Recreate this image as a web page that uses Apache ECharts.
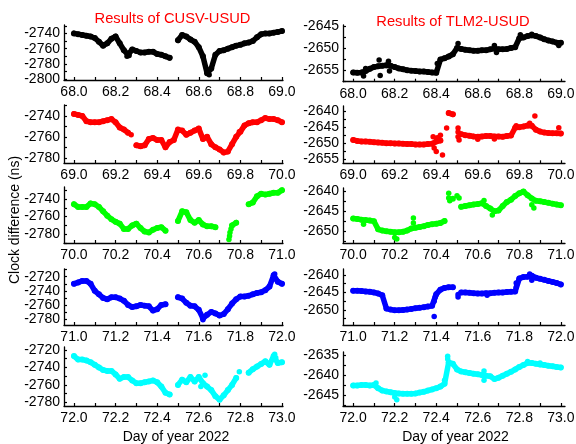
<!DOCTYPE html>
<html><head><meta charset="utf-8">
<script src="https://cdn.jsdelivr.net/npm/echarts@6/dist/echarts.min.js"></script>
<style>html,body{margin:0;padding:0;background:#fff}#c{width:576px;height:444px}</style>
</head><body><div id="c"></div>
<script>
// ---------------- DATA ----------------
const dayStarts = [68, 69, 70, 71, 72];
const sampleStep = 0.02;
const titles = ['Results of CUSV-USUD', 'Results of TLM2-USUD'];
const yAxisTitle = 'Clock difference (ns)';
const xAxisTitle = 'Day of year 2022';
const xLabelOffsets = [0, 0.2, 0.4, 0.6, 0.8, 1.0];

// CUSV-USUD (left column), one value every 0.02 day, null = gap
const cusvDay68 = [-2740,-2741,-2742,-2743,-2744,-2746,-2751,-2756,-2753,-2747,-2744,-2753,-2762,-2768,-2761,-2763,-2765,-2765,-2764,-2764,-2767,-2768,-2770,-2772,null,-2749,-2742,-2744,-2748,-2751,-2758,-2770,-2792,-2786,-2768,-2763,-2762,-2760,-2758,-2756,-2755,-2753,-2752,-2750,-2745,-2741,-2740,-2740,-2739,-2738,-2737];
const cusvDay69 = [-2738,-2739,-2740,-2745,-2746,-2746,-2746,-2745,-2744,-2743,-2746,-2751,-2753,-2756,null,-2768,-2769,-2768,-2762,-2761,-2763,-2763,-2770,-2765,-2763,-2753,-2754,-2758,-2756,-2754,-2752,-2762,-2760,-2767,-2770,-2772,-2775,-2774,-2767,-2760,-2755,-2749,-2747,-2746,-2746,-2744,-2742,-2743,-2743,-2744,-2746];
const cusvDay70 = [-2746,-2749,-2749,-2749,-2745,-2746,-2749,-2754,-2759,-2763,-2766,-2768,-2774,-2774,-2770,-2768,-2773,-2777,-2778,-2775,-2773,-2772,-2776,null,null,-2765,-2754,-2755,-2764,-2767,-2764,-2769,-2771,-2771,-2772,null,null,null,-2770,-2767,null,null,-2746,-2744,-2737,-2734,-2735,-2734,-2733,-2733,-2730];
const cusvDay71 = [-2730,-2728,-2726,-2726,-2730,-2740,-2745,-2750,-2752,-2749,-2749,-2751,-2754,-2760,-2763,-2762,-2760,-2761,-2762,-2768,-2766,-2760,-2759,null,null,-2749,-2751,-2757,-2761,-2762,-2767,-2779,-2774,-2770,-2772,-2775,-2773,-2766,-2758,-2752,-2748,-2748,-2747,-2745,-2743,-2742,-2739,-2734,-2718,-2727,-2730];
const cusvDay72 = [-2727,-2731,-2731,-2732,-2734,-2737,-2740,-2743,-2744,-2744,-2748,-2753,-2751,-2751,-2755,-2758,-2758,-2757,-2756,-2755,-2757,-2762,-2769,-2771,null,-2760,-2754,-2757,-2751,-2756,-2751,-2758,-2762,-2766,-2773,-2777,-2772,-2766,-2760,-2752,null,null,-2746,-2742,-2739,-2736,-2733,-2737,-2727,-2735,-2734];

// TLM2-USUD (right column)
const tlm2Day68 = [-2655.5,-2655.6,-2655.5,-2655.2,-2654.7,-2654.3,-2654.1,-2654.0,-2653.9,-2654.0,-2654.3,-2654.6,-2654.8,-2655.0,-2655.1,-2655.2,-2655.3,-2655.3,-2655.4,-2655.5,-2655.6,-2652.6,-2652.3,-2651.9,-2651.4,-2650.0,-2650.2,-2650.4,-2650.5,-2650.6,-2650.6,-2650.5,-2650.5,-2650.3,-2650.1,-2650.3,-2650.3,-2650.2,-2650.0,-2649.8,-2647.8,-2647.6,-2647.3,-2647.1,-2647.3,-2647.6,-2648.0,-2648.3,-2648.5,-2648.8,-2648.8];
const tlm2Day69 = [-2649.0,-2649.3,-2649.5,-2649.5,-2649.6,-2649.7,-2649.8,-2649.9,-2650.0,-2650.0,-2650.1,-2650.1,-2650.2,-2650.3,-2650.3,-2650.4,-2650.4,-2650.4,-2650.3,-2650.2,-2649.5,-2649.2,null,-2640.6,-2641.0,null,-2647.2,-2647.5,-2647.7,-2647.9,-2648.0,-2647.9,-2647.8,-2647.8,-2647.9,-2647.9,-2648.0,-2647.8,-2647.6,-2645.2,-2645.0,-2644.8,-2644.5,-2644.6,-2645.8,-2646.4,-2646.7,-2646.8,-2646.9,-2646.9,-2647.0];
const tlm2Day70 = [-2646.9,-2647.0,-2647.2,-2647.3,-2647.4,-2647.6,-2649.6,-2649.9,-2650.1,-2650.2,-2650.3,-2650.3,-2650.2,-2649.9,-2649.4,-2649.2,-2649.0,-2648.8,-2648.5,-2648.3,-2648.2,-2648.0,-2647.5,null,-2642.0,null,-2644.0,-2643.8,-2643.6,-2643.4,-2643.3,-2643.1,-2643.8,-2644.4,-2645.1,-2644.9,-2643.8,-2642.8,-2642.2,-2641.3,-2640.6,-2640.2,-2641.1,-2641.9,-2642.5,-2642.6,-2642.8,-2643.0,-2643.2,-2643.4,-2643.6];
const tlm2Day71 = [-2644.5,-2644.5,-2644.6,-2644.7,-2644.8,-2645.0,-2645.3,-2645.8,-2649.6,-2649.9,-2650.1,-2650.1,-2650.0,-2649.9,-2649.7,-2649.5,-2649.4,-2649.2,-2649.0,-2648.8,-2645.5,-2644.2,-2643.7,-2643.5,-2643.5,null,-2645.0,-2645.0,-2645.1,-2645.2,-2645.3,-2645.3,-2645.2,-2645.2,-2645.1,-2645.0,-2645.0,-2644.9,-2644.8,-2644.7,-2641.0,-2640.6,-2640.5,-2640.2,-2640.8,-2641.1,-2641.4,-2641.7,-2642.0,-2642.3,-2642.7];
const tlm2Day72 = [-2642.6,-2642.6,-2642.5,-2642.5,-2642.6,-2642.5,-2643.3,-2643.9,-2644.1,-2644.3,-2644.5,-2644.6,-2644.7,-2644.7,-2644.7,-2644.6,-2644.4,-2644.2,-2643.9,-2643.6,-2643.3,-2642.9,-2642.2,-2636.8,-2637.2,-2638.6,-2639.1,-2639.3,-2639.5,-2639.7,-2639.8,-2640.0,-2640.2,-2640.3,-2641.0,-2640.7,-2640.2,-2639.7,-2639.2,-2638.6,-2638.0,-2637.5,-2637.0,-2637.0,-2637.2,-2637.4,-2637.5,-2637.7,-2637.8,-2638.0,-2638.1];

// isolated points / spikes [day, ns]
const cusvOutliers68 = [[68.645,-2790],[68.65,-2794],[68.255,-2770],[68.265,-2769]];
const cusvOutliers69 = [[69.275,-2758],[69.795,-2755]];
const cusvOutliers70 = [[70.745,-2786],[70.748,-2782],[70.75,-2778],[70.755,-2774]];
const cusvOutliers71 = [[71.965,-2716],[71.62,-2781]];
const cusvOutliers72 = [[72.795,-2745],[72.61,-2762],[72.63,-2749],[72.965,-2725],[72.97,-2729]];
const tlm2Outliers68 = [[68.05,-2656.3],[68.06,-2654.6],[68.125,-2652.7],[68.13,-2656.2],[68.17,-2653.0],[68.175,-2655.2],[68.405,-2653.5],[68.505,-2649.0],[68.68,-2649.4],[68.69,-2651.0],[68.805,-2647.0],[68.86,-2646.9],[68.99,-2649.4]];
const tlm2Outliers69 = [[69.385,-2648.0],[69.39,-2651.5],[69.40,-2652.6],[69.405,-2648.3],[69.42,-2647.5],[69.43,-2653.7],[69.45,-2645.3],[69.505,-2645.3],[69.505,-2646.5],[69.505,-2648.0],[69.51,-2649.0],[69.6,-2648.8],[69.68,-2648.7],[69.785,-2644.6],[69.85,-2643.8],[69.875,-2641.5],[69.99,-2645.2]];
const tlm2Outliers70 = [[70.46,-2640.6],[70.46,-2641.8],[70.465,-2642.5],[70.50,-2641.2],[70.51,-2641.8],[70.05,-2648.3],[70.20,-2651.6],[70.21,-2652.0],[70.29,-2646.8],[70.29,-2648.0],[70.63,-2642.4],[70.67,-2646.0],[70.87,-2644.3],[70.86,-2643.5]];
const tlm2Outliers71 = [[71.39,-2651.9],[71.39,-2647.5],[71.395,-2646.3],[71.505,-2646.3],[71.505,-2645.6],[71.645,-2645.8],[71.785,-2643.5],[71.785,-2642.3],[71.85,-2639.7],[71.86,-2641.5]];
const tlm2Outliers72 = [[72.455,-2635.3],[72.455,-2636.0],[72.11,-2642.0],[72.2,-2645.5],[72.21,-2646.2],[72.44,-2641.3],[72.63,-2639.0],[72.63,-2641.3],[72.84,-2636.6],[72.9,-2637.0]];

const cusvYTickLabels = [[-2800,-2780,-2760,-2740],[-2780,-2760,-2740],[-2780,-2760,-2740],[-2780,-2760,-2740,-2720],[-2780,-2760,-2740,-2720]];
const tlm2YTickLabels = [[-2655,-2650,-2645],[-2655,-2650,-2645,-2640],[-2650,-2645,-2640],[-2650,-2645,-2640],[-2645,-2640,-2635]];

const panelValues = [[cusvDay68,cusvDay69,cusvDay70,cusvDay71,cusvDay72],[tlm2Day68,tlm2Day69,tlm2Day70,tlm2Day71,tlm2Day72]];
const panelOutliers = [[cusvOutliers68,cusvOutliers69,cusvOutliers70,cusvOutliers71,cusvOutliers72],[tlm2Outliers68,tlm2Outliers69,tlm2Outliers70,tlm2Outliers71,tlm2Outliers72]];
const panelYLabels = [cusvYTickLabels, tlm2YTickLabels];

// ---------------- LAYOUT ----------------
const rowColors = ['#000000','#ff0000','#00ff00','#0000ff','#00ffff'];
const colLeft = [64, 343];
const colRight = [283, 565];
const rowBoxes = [
  [[25,80],[105,163],[187,243],[269,325],[347,406]],
  [[25,81.7],[106,163.3],[188,243],[269,325],[352,406]]
];
const yRanges = [
  [[-2801,-2729],[-2785,-2729.5],[-2790,-2726.4],[-2788.5,-2709],[-2784.2,-2716.6]],
  [[-2657.6,-2644.8],[-2656.3,-2638.4],[-2653,-2639.3],[-2654.3,-2638.3],[-2647.75,-2634.25]]
];
const yMinorStep = [10, 2.5];
const xPad = [[0.048,0.005],[0.049,0.02]];
const FONT = '"Liberation Sans", Arial, sans-serif';
const r1 = v => Math.round(v*1000)/1000;

const grids=[], xAxes=[], yAxes=[], series=[];
for (let c=0;c<2;c++){
  for (let r=0;r<5;r++){
    const idx = grids.length;
    const [top,bottom] = rowBoxes[c][r];
    grids.push({left: colLeft[c], top: top, width: colRight[c]-colLeft[c], height: bottom-top, containLabel:false, outerBoundsMode:'none'});
    const d0 = dayStarts[r];
    const xTicks=[]; for (let k=0;k<=10;k++) xTicks.push(r1(d0+k*0.1));
    const xLabels = xLabelOffsets.map(o=>r1(d0+o));
    xAxes.push({gridIndex:idx, type:'value', min:r1(d0-xPad[c][0]), max:r1(d0+1+xPad[c][1]),
      axisLine:{show:true,onZero:false,lineStyle:{color:'#000',width:1.3}},
      axisTick:{show:true,inside:true,length:3,customValues:xTicks,lineStyle:{color:'#000',width:1.2}},
      axisLabel:{show:true,customValues:xLabels,formatter:v=>Number(v).toFixed(1),color:'#000',fontSize:14,fontFamily:FONT,margin:5},
      splitLine:{show:false}, minorTick:{show:false}});
    const [ymin,ymax] = yRanges[c][r];
    const ys = yMinorStep[c];
    const yTicks=[]; for (let v=Math.ceil(ymin/ys)*ys; v<=ymax; v+=ys) yTicks.push(v);
    yAxes.push({gridIndex:idx, type:'value', min:ymin, max:ymax,
      axisLine:{show:true,onZero:false,lineStyle:{color:'#000',width:1.3}},
      axisTick:{show:true,inside:true,length:3,customValues:yTicks,lineStyle:{color:'#000',width:1.2}},
      axisLabel:{show:true,customValues:panelYLabels[c][r],formatter:v=>String(v),color:'#000',fontSize:14,fontFamily:FONT,margin:4},
      splitLine:{show:false}});
    const color = rowColors[r];
    const vals = panelValues[c][r];
    series.push({type:'line', xAxisIndex:idx, yAxisIndex:idx, animation:false, silent:true,
      data: vals.map((v,k)=>[r1(d0+k*sampleStep), v===null?'-':v]),
      connectNulls:false, symbol:'circle', symbolSize:6, showSymbol:true, showAllSymbol:true,
      lineStyle:{color:color,width:5.5,join:'round',cap:'round',opacity:1}, itemStyle:{color:color,opacity:1,borderWidth:0}});
    series.push({type:'scatter', xAxisIndex:idx, yAxisIndex:idx, animation:false, silent:true,
      data: panelOutliers[c][r], symbol:'circle', symbolSize:5.5, itemStyle:{color:color,opacity:1,borderWidth:0}});
  }
}

const graphics = [
  {type:'text', x:172.5, y:19, style:{text:titles[0], fill:'#ff0000', fontSize:14.7, fontFamily:FONT, align:'center', verticalAlign:'middle'}},
  {type:'text', x:453, y:21.5, style:{text:titles[1], fill:'#ff0000', fontSize:14.7, fontFamily:FONT, align:'center', verticalAlign:'middle'}},
  {type:'text', x:15, y:220, rotation:Math.PI/2, style:{text:yAxisTitle, fill:'#000', fontSize:14, fontFamily:FONT, align:'center', verticalAlign:'middle'}},
  {type:'text', x:176, y:437, style:{text:xAxisTitle, fill:'#000', fontSize:14, fontFamily:FONT, align:'center', verticalAlign:'middle'}},
  {type:'text', x:455.5, y:437, style:{text:xAxisTitle, fill:'#000', fontSize:14, fontFamily:FONT, align:'center', verticalAlign:'middle'}}
];

const chart = echarts.init(document.getElementById('c'), null, {renderer:'canvas', width:576, height:444});
chart.setOption({backgroundColor:'#fff', animation:false, grid:grids, xAxis:xAxes, yAxis:yAxes, series:series, graphic:graphics});
</script></body></html>
